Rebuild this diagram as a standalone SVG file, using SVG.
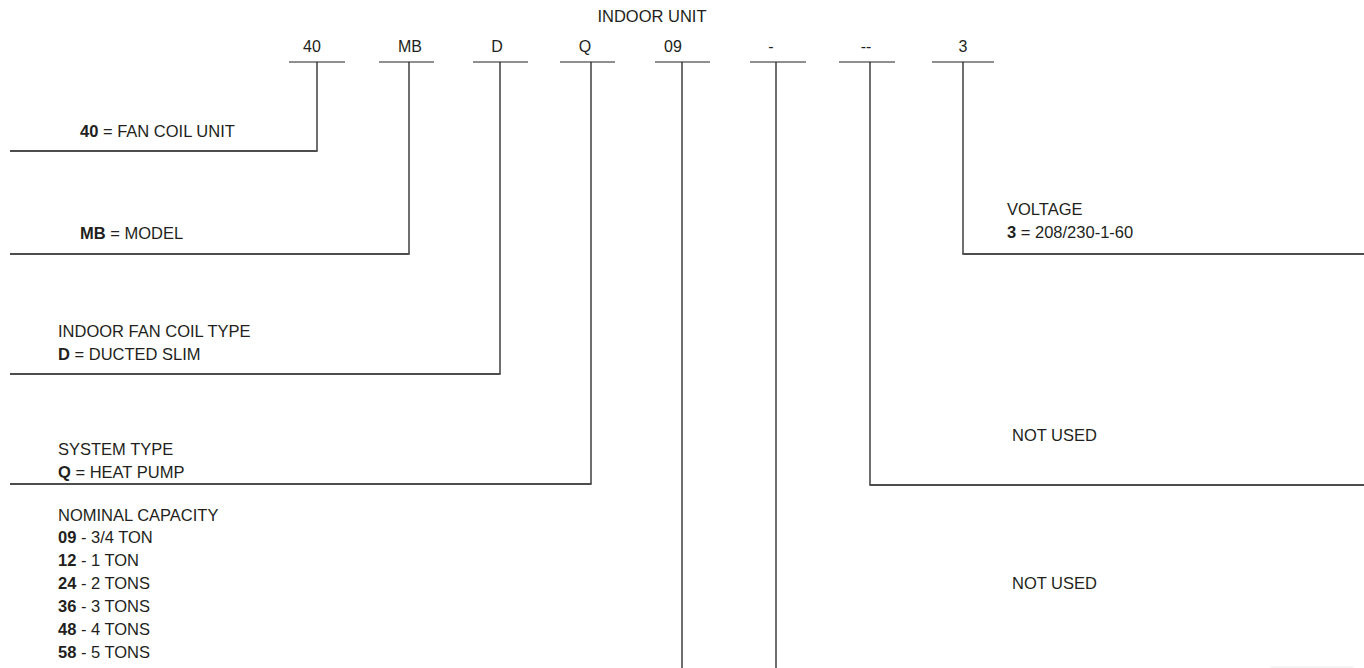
<svg xmlns="http://www.w3.org/2000/svg" width="1364" height="668" viewBox="0 0 1364 668">
<style>
text{font-family:"Liberation Sans",Arial,sans-serif;font-size:16.5px;fill:#231f20}
.code{font-size:16px;text-anchor:middle}
.b{font-weight:bold}
.ul{stroke:#231f20;stroke-width:1.2;fill:none}
.v{stroke:#231f20;stroke-width:1.3;fill:none}
.h{stroke:#4d4d4d;stroke-width:2;fill:none}
</style>
<rect width="1364" height="668" fill="#fff"/>
<g id="title"><text x="652" y="22" text-anchor="middle">INDOOR UNIT</text></g>
<g id="codes">
<g id="code-40"><text class="code" x="312" y="52">40</text><line class="ul" x1="289" y1="62" x2="345" y2="62"/></g>
<g id="code-MB"><text class="code" x="410" y="52">MB</text><line class="ul" x1="379" y1="62" x2="434" y2="62"/></g>
<g id="code-D"><text class="code" x="497" y="52">D</text><line class="ul" x1="473" y1="62" x2="528" y2="62"/></g>
<g id="code-Q"><text class="code" x="585" y="52">Q</text><line class="ul" x1="560" y1="62" x2="615" y2="62"/></g>
<g id="code-09"><text class="code" x="673" y="52">09</text><line class="ul" x1="655" y1="62" x2="710" y2="62"/></g>
<g id="code-dash"><text class="code" x="771" y="52">-</text><line class="ul" x1="750" y1="62" x2="806" y2="62"/></g>
<g id="code-dash2"><text class="code" x="866" y="52">--</text><line class="ul" x1="839" y1="62" x2="895" y2="62"/></g>
<g id="code-3"><text class="code" x="963" y="52">3</text><line class="ul" x1="932" y1="62" x2="994" y2="62"/></g>
</g>
<g id="connectors">
<polyline class="v" points="317,62 317,151"/>
<line class="h" x1="10" y1="151" x2="317.6" y2="151"/>
<polyline class="v" points="409,62 409,254"/>
<line class="h" x1="10" y1="254" x2="409.6" y2="254"/>
<polyline class="v" points="500,62 500,374"/>
<line class="h" x1="10" y1="374" x2="500.6" y2="374"/>
<polyline class="v" points="591,62 591,484"/>
<line class="h" x1="10" y1="484" x2="591.6" y2="484"/>
<line class="v" x1="682" y1="62" x2="682" y2="668"/>
<line class="v" x1="776" y1="62" x2="776" y2="668"/>
<polyline class="v" points="870,62 870,485"/>
<line class="h" x1="869.4" y1="485" x2="1364" y2="485"/>
<polyline class="v" points="963,62 963,254"/>
<line class="h" x1="962.4" y1="254" x2="1364" y2="254"/>
<line x1="1270" y1="667" x2="1354" y2="667" stroke="#ececec" stroke-width="1"/>
</g>
<g id="desc-40"><text x="80" y="137"><tspan class="b">40</tspan> = FAN COIL UNIT</text></g>
<g id="desc-MB"><text x="80" y="239"><tspan class="b">MB</tspan> = MODEL</text></g>
<g id="desc-D"><text x="58" y="337">INDOOR FAN COIL TYPE</text><text x="58" y="360"><tspan class="b">D</tspan> = DUCTED SLIM</text></g>
<g id="desc-Q"><text x="58" y="455">SYSTEM TYPE</text><text x="58" y="478"><tspan class="b">Q</tspan> = HEAT PUMP</text></g>
<g id="desc-09">
<text x="58" y="521">NOMINAL CAPACITY</text>
<text x="58" y="543"><tspan class="b">09</tspan> - 3/4 TON</text>
<text x="58" y="566"><tspan class="b">12</tspan> - 1 TON</text>
<text x="58" y="589"><tspan class="b">24</tspan> - 2 TONS</text>
<text x="58" y="612"><tspan class="b">36</tspan> - 3 TONS</text>
<text x="58" y="635"><tspan class="b">48</tspan> - 4 TONS</text>
<text x="58" y="658"><tspan class="b">58</tspan> - 5 TONS</text>
</g>
<g id="desc-3"><text x="1007" y="215">VOLTAGE</text><text x="1007" y="238"><tspan class="b">3</tspan> = 208/230-1-60</text></g>
<g id="desc-dash2"><text x="1012" y="441">NOT USED</text></g>
<g id="desc-dash"><text x="1012" y="589">NOT USED</text></g>
</svg>
